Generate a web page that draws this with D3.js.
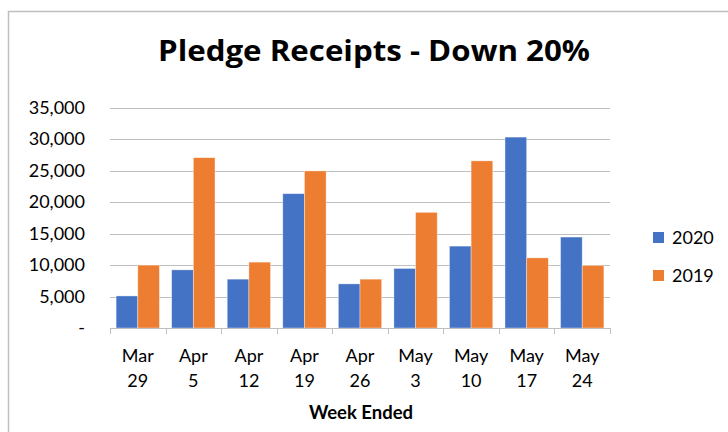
<!DOCTYPE html>
<html><head><meta charset="utf-8">
<script src="https://cdn.jsdelivr.net/npm/d3@7"></script>
<style>html,body{margin:0;padding:0;background:#fff;}svg{display:block;font-family:Lato,"Open Sans",sans-serif;}</style>
</head><body>
<script>
const categories = [["Mar","29"],["Apr","5"],["Apr","12"],["Apr","19"],["Apr","26"],["May","3"],["May","10"],["May","17"],["May","24"]];
const seriesNames = ["2020","2019"];
const values2020 = [5100, 9250, 7770, 21370, 7020, 9470, 13030, 30370, 14470];
const values2019 = [10000, 27100, 10480, 24990, 7770, 18400, 26590, 11160, 9950];
const yTicks = [0, 5000, 10000, 15000, 20000, 25000, 30000, 35000];
const colors = ["#4472C4", "#ED7D31"];

(function () {
const W = 728, H = 432;
const svg = d3.select("body").append("svg").attr("width", W).attr("height", H);

svg.append("rect").attr("x", 8.5).attr("y", 11.5).attr("width", W).attr("height", H)
  .attr("fill", "#fff").attr("stroke", "#bfbfbf").attr("stroke-width", 1.5);

const pLeft = 110, pRight = 610, pTop = 108, pBottom = 328;
const y = d3.scaleLinear().domain([0, 35000]).range([pBottom, pTop]);
const x0 = d3.scaleBand().domain(d3.range(categories.length)).range([pLeft, pRight]).padding(0);
const gap = x0.bandwidth() * 0.22;
const x1 = d3.scaleBand().domain(seriesNames).range([gap / 2, x0.bandwidth() - gap / 2]).padding(0);

// title
svg.append("text").attr("x", 374).attr("y", 61).attr("text-anchor", "middle")
  .attr("font-family", "'Open Sans', Lato, sans-serif")
  .attr("font-weight", "bold").attr("font-size", 29).attr("fill", "#000")
  .attr("textLength", 432).attr("lengthAdjust", "spacingAndGlyphs")
  .text("Pledge Receipts - Down 20%");

// gridlines
svg.append("g").selectAll("line").data(yTicks.filter(d => d > 0)).join("line")
  .attr("x1", pLeft).attr("x2", pRight).attr("y1", d => Math.round(y(d)) + 0.5).attr("y2", d => Math.round(y(d)) + 0.5)
  .attr("stroke", "#bfbfbf").attr("stroke-width", 1);

// y axis labels
const fmt = d => d === 0 ? "-" : d3.format(",")(d);
svg.append("g").selectAll("text").data(yTicks).join("text")
  .attr("x", 85).attr("y", d => y(d) + 6).attr("text-anchor", "end")
  .attr("font-size", 18).attr("fill", "#000").text(fmt);

// bars
const data = categories.map((c, i) => ({i, vals: [values2020[i], values2019[i]]}));
const g = svg.append("g").selectAll("g").data(data).join("g")
  .attr("transform", d => `translate(${x0(d.i)},0)`);
g.selectAll("rect").data(d => d.vals.map((v, k) => ({k, v}))).join("rect")
  .attr("x", d => x1(seriesNames[d.k]))
  .attr("width", x1.bandwidth())
  .attr("y", d => y(d.v))
  .attr("height", d => pBottom - y(d.v))
  .attr("fill", d => colors[d.k])
  .attr("stroke", "#fff").attr("stroke-opacity", 0.5).attr("stroke-width", 0.75);

// x axis line and ticks
svg.append("line").attr("x1", pLeft).attr("x2", pRight).attr("y1", pBottom + 0.5).attr("y2", pBottom + 0.5)
  .attr("stroke", "#bfbfbf").attr("stroke-width", 1);
svg.append("g").selectAll("line").data(d3.range(categories.length + 1)).join("line")
  .attr("x1", d => Math.round(pLeft + d * x0.bandwidth()) + 0.5).attr("x2", d => Math.round(pLeft + d * x0.bandwidth()) + 0.5)
  .attr("y1", pBottom).attr("y2", pBottom + 6).attr("stroke", "#bfbfbf");

// x labels
const xl = svg.append("g").selectAll("text").data(categories).join("text")
  .attr("text-anchor", "middle").attr("font-size", 18).attr("fill", "#000");
xl.append("tspan").attr("x", (d, i) => x0(i) + x0.bandwidth() / 2).attr("y", 362).text(d => d[0]);
xl.append("tspan").attr("x", (d, i) => x0(i) + x0.bandwidth() / 2).attr("y", 387).text(d => d[1]);

svg.append("text").attr("x", 361).attr("y", 419).attr("text-anchor", "middle")
  .attr("font-weight", "bold").attr("font-size", 18.5).attr("fill", "#000").text("Week Ended");

// legend
const lg = svg.append("g").selectAll("g").data(seriesNames).join("g")
  .attr("transform", (d, i) => `translate(653,${232 + i * 38})`);
lg.append("rect").attr("width", 11).attr("height", 11).attr("fill", (d, i) => colors[i]);
lg.append("text").attr("x", 19).attr("y", 11.5).attr("font-size", 18).attr("fill", "#000").text(d => d);
})();
</script>
</body></html>
